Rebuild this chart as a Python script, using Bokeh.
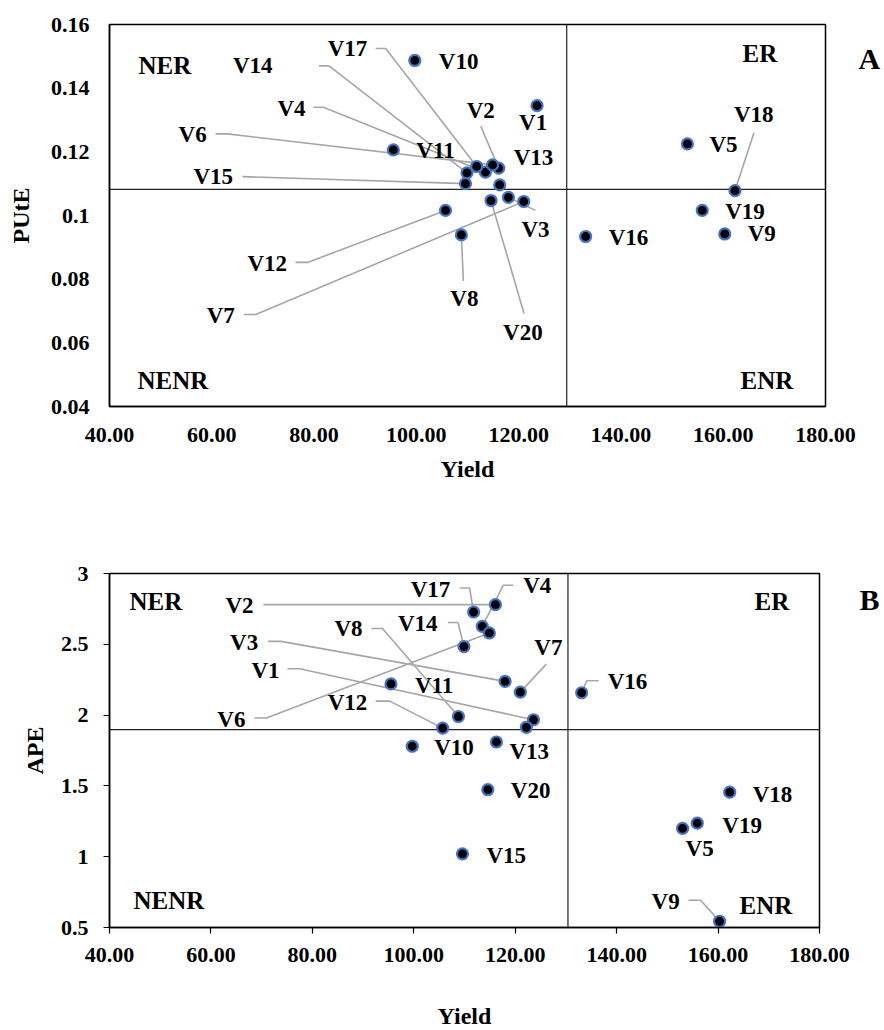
from bokeh.plotting import figure
from bokeh.layouts import column
from bokeh.models import (Span, Label, FixedTicker, NumeralTickFormatter, ColumnDataSource,
                          LinearAxis, CustomJSTickFormatter)
from bokeh.core.properties import value
from bokeh.embed import file_html
from bokeh.resources import INLINE

# ---------------- data ----------------
varieties = ["V1", "V2", "V3", "V4", "V5", "V6", "V7", "V8", "V9", "V10",
             "V11", "V12", "V13", "V14", "V15", "V16", "V17", "V18", "V19", "V20"]
yield_vals = [123.6, 116.1, 118.0, 113.5, 153.0, 114.9, 121.0, 108.8, 160.3, 99.7,
              95.5, 105.7, 116.3, 109.9, 109.6, 133.1, 111.8, 162.3, 155.9, 114.6]
pute_vals = [0.1345, 0.1149, 0.1057, 0.1136, 0.1225, 0.1159, 0.1044, 0.0939, 0.0942, 0.1487,
             0.1206, 0.1016, 0.1096, 0.1134, 0.1100, 0.0934, 0.1154, 0.1078, 0.1016, 0.1047]
ape_vals = [1.967, 2.780, 2.238, 2.627, 1.200, 2.580, 2.162, 1.990, 0.544, 1.780,
            2.220, 1.908, 1.810, 2.484, 1.020, 2.158, 2.728, 1.456, 1.237, 1.473]
# unlabelled extra point visible in panel B
extra_b_yield = [122.2]
extra_b_ape = [1.914]

yield_mean_a = 129.4
pute_mean = 0.1082
yield_mean_b = 130.4
ape_mean = 1.897

x_ticks = [40, 60, 80, 100, 120, 140, 160, 180]
a_y_ticks = [0.04, 0.06, 0.08, 0.1, 0.12, 0.14, 0.16]
b_y_ticks = [0.5, 1, 1.5, 2, 2.5, 3]

quadrants = ["NER", "NENR", "ER", "ENR"]

# ---------------- layout (label placement, in screen pixels) ----------------
# label: (dx, dy) offset of the label's left/middle from its point, y downward;
# leader: list of offsets from the label side towards the point.
lab_a = {
    "V1": (-18, 17, []), "V2": (-32, -58, [(-18, -42)]),
    "V3": (13, 32, [(27, 13)]), "V4": (-208, -64, [(-172, -65), (-162, -65)]),
    "V5": (22, 1, []), "V6": (-314, -30, [(-277, -31), (-265, -31)]),
    "V7": (-317, 114, [(-280, 113), (-268, 113)]), "V8": (-11, 64, [(2, 46)]),
    "V9": (23, 0, []), "V10": (24, 1, []), "V11": (23, 1, []),
    "V12": (-198, 53, [(-150, 52), (-138, 52)]), "V13": (14, -27, []),
    "V14": (-234, -107, [(-148, -107), (-138, -107)]),
    "V15": (-272, -7, [(-223, -7)]), "V16": (23, 1, []),
    "V17": (-149, -118, [(-101, -118), (-91, -118)]),
    "V18": (-1, -76, [(19, -58)]), "V19": (23, 1, []), "V20": (12, 132, [(33, 113)]),
}
lab_b = {
    "V1": (-282, -49, [(-246, -51), (-234, -51)]), "V2": (-270, 1, [(-232, 0)]),
    "V3": (-275, -39, [(-237, -40), (-224, -40)]), "V4": (41, -41, [(31, -41), (21, -41)]),
    "V5": (3, 20, []), "V6": (-272, 87, [(-235, 85), (-223, 85)]),
    "V7": (14, -45, [(26, -28)]), "V8": (-124, -88, [(-87, -88), (-76, -88)]),
    "V9": (-68, -20, [(-31, -21), (-19, -21)]), "V10": (22, 1, []), "V11": (24, 2, []),
    "V12": (-115, -26, [(-67, -27), (-53, -27)]), "V13": (13, 9, []),
    "V14": (-66, -23, [(-16, -24), (-6, -24)]), "V15": (24, 2, []),
    "V16": (26, -11, [(17, -12), (5, -12)]), "V17": (-63, -23, [(-14, -24), (-4, -24)]),
    "V18": (23, 2, []), "V19": (25, 2, []), "V20": (23, 1, []),
}

FONT = "Liberation Serif"


def build(yvals, ytitle, yrange, yticks, lab, quad_pos, letter, letter_pos,
          frame, borders, xmean, ymean, tick_out, axis_cfg, extra=None):
    fl, ft, fw, fh = frame
    p = figure(frame_width=fw, frame_height=fh, x_range=(40, 180), y_range=yrange,
               output_backend="svg", toolbar_location=None,
               min_border_left=borders[0], min_border_right=borders[1],
               min_border_top=borders[2], min_border_bottom=borders[3])
    p.xgrid.visible = False
    p.ygrid.visible = False
    p.outline_line_color = "black"
    p.outline_line_width = 1.5
    p.background_fill_color = "white"
    p.border_fill_color = "white"

    ppx = fw / 140.0
    ppy = fh / (yrange[1] - yrange[0])

    def off(x, y, dx, dy):
        return x + dx / ppx, y - dy / ppy

    # reference lines
    for loc, dim in ((xmean, "height"), (ymean, "width")):
        s = Span(location=loc, dimension=dim, line_color="#222222", line_width=1.2)
        s.level = "underlay"
        p.add_layout(s)

    # leaders
    xs, ys = [], []
    for name, xv, yv in zip(varieties, yield_vals, yvals):
        dx, dy, pts = lab[name]
        if pts:
            lx, ly = [], []
            for (ox, oy) in pts + [(0, 0)]:
                a, b = off(xv, yv, ox, oy)
                lx.append(a)
                ly.append(b)
            xs.append(lx)
            ys.append(ly)
    p.multi_line(xs, ys, line_color="#A6A6A6", line_width=1.6)

    # points
    px_all = list(yield_vals)
    py_all = list(yvals)
    if extra:
        px_all += extra[0]
        py_all += extra[1]
    p.scatter(px_all, py_all, size=11, fill_color="black", line_color="#4472C4",
              line_width=2.2)

    # point labels
    tx, ty = [], []
    for name, xv, yv in zip(varieties, yield_vals, yvals):
        dx, dy, _ = lab[name]
        a, b = off(xv, yv, dx, dy)
        tx.append(a)
        ty.append(b)
    src = ColumnDataSource(dict(x=tx, y=ty, t=varieties))
    p.text("x", "y", text="t", source=src, text_font=value(FONT),
           text_font_style="bold", text_font_size="23px", text_color="black",
           text_align="left", text_baseline="middle")

    # quadrant labels (page pixel positions -> data)
    def page(X, Y):
        return 40 + (X - fl) / ppx, yrange[1] - (Y - ft) / ppy

    for q, (X, Y) in zip(quadrants, quad_pos):
        a, b = page(X, Y)
        p.add_layout(Label(x=a, y=b, text=q, text_font=FONT, text_font_style="bold",
                           text_font_size="25px", text_align="left",
                           text_baseline="middle", text_color="black"))

    # panel letter as a single-tick right axis
    _, ly = page(*letter_pos)
    ly = round(ly, 4)
    rax = LinearAxis(ticker=FixedTicker(ticks=[ly]),
                     formatter=CustomJSTickFormatter(code="return '%s';" % letter))
    rax.axis_line_color = None
    rax.major_tick_line_color = None
    rax.minor_tick_line_color = None
    rax.major_tick_out = 0
    rax.major_tick_in = 0
    rax.major_label_standoff = letter_pos[0] - (fl + fw)
    rax.major_label_text_font = FONT
    rax.major_label_text_font_style = "bold"
    rax.major_label_text_font_size = "30px"
    rax.major_label_text_color = "black"
    p.add_layout(rax, "right")

    # axes
    p.xaxis.ticker = FixedTicker(ticks=x_ticks)
    p.xaxis.formatter = NumeralTickFormatter(format="0.00")
    p.yaxis[0].ticker = FixedTicker(ticks=yticks)
    p.yaxis[0].major_label_overrides = {t: ("%g" % t) for t in yticks}
    p.xaxis.axis_label = "Yield"
    p.yaxis[0].axis_label = ytitle
    for ax in (p.xaxis[0], p.yaxis[0]):
        ax.axis_line_color = "black"
        ax.axis_line_width = 1.5
        ax.major_tick_out = tick_out
        ax.major_tick_in = 0
        ax.major_tick_line_color = "black" if tick_out else None
        ax.major_tick_line_width = 1.2
        ax.minor_tick_line_color = None
        ax.major_label_text_font = FONT
        ax.major_label_text_font_style = "bold"
        ax.major_label_text_font_size = "22px"
        ax.major_label_text_color = "black"
        ax.axis_label_text_font = FONT
        ax.axis_label_text_font_style = "bold"
        ax.axis_label_text_font_size = "24px"
        ax.axis_label_text_color = "black"
    p.xaxis[0].major_label_standoff = axis_cfg[0]
    p.xaxis[0].axis_label_standoff = axis_cfg[1]
    p.yaxis[0].major_label_standoff = axis_cfg[2]
    p.yaxis[0].axis_label_standoff = axis_cfg[3]
    return p


pa = build(pute_vals, "PUtE", (0.04, 0.16), a_y_ticks, lab_a,
           [(138, 65), (137, 380), (742, 53), (740, 380)], "A", (858, 58),
           (109, 24, 716, 382), (109, 59, 24, 114), yield_mean_a, pute_mean,
           0, (21, 11, 20, 14))

pb = build(ape_vals, "APE", (0.5, 3.0), b_y_ticks, lab_b,
           [(123, 601 - 520), (127, 900 - 520), (748, 601 - 520), (733, 905 - 520)],
           "B", (853, 599 - 520),
           (103, 53, 710, 354), (103, 71, 53, 100), yield_mean_b, ape_mean,
           6, (14, 38, 15, 10), extra=(extra_b_yield, extra_b_ape))

layout = column(pa, pb, spacing=0)
open("out.html", "w").write(file_html(layout, INLINE))
